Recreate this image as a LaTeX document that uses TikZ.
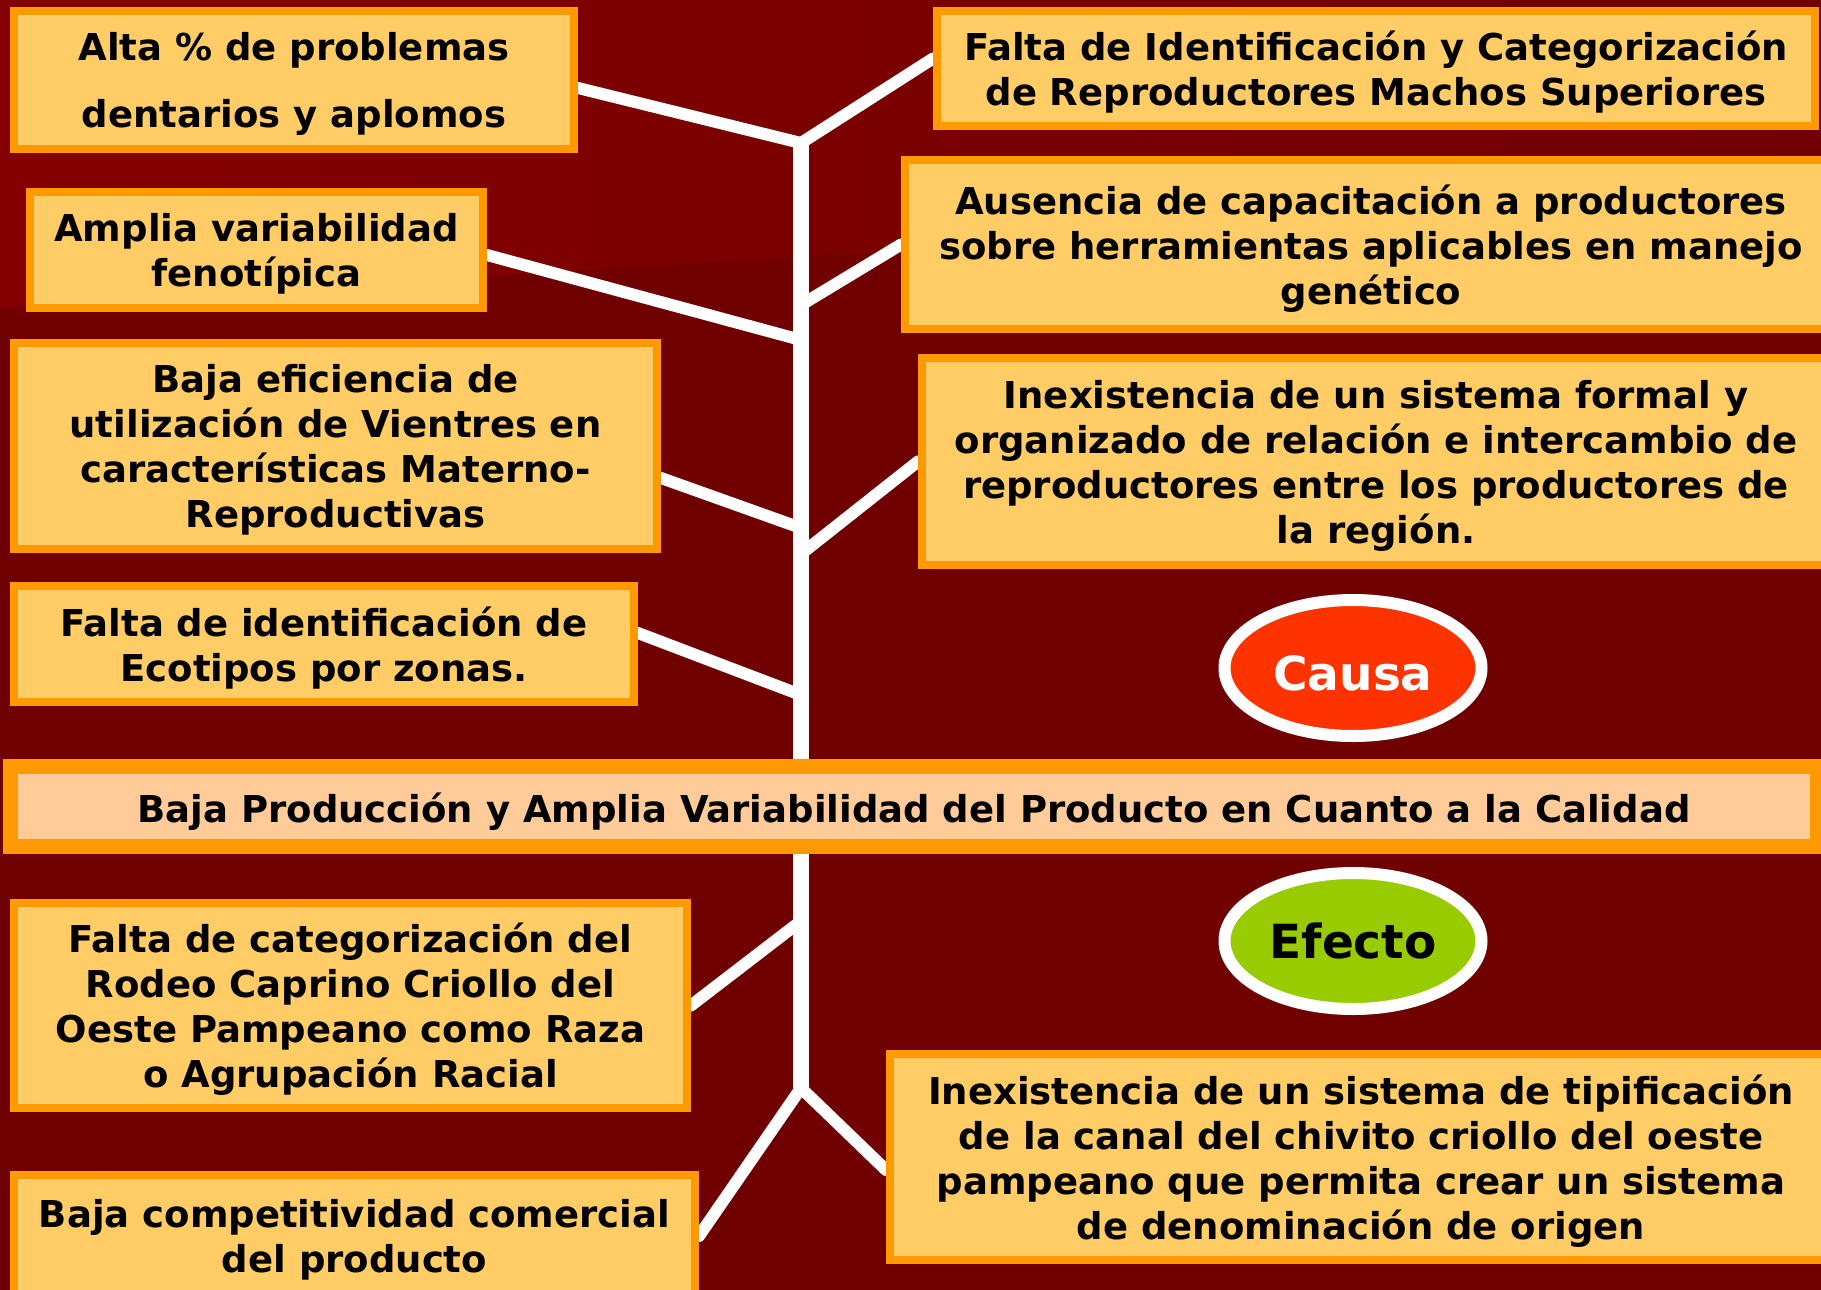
\documentclass[tikz,border=0pt]{standalone}
\usepackage{fontspec}
\setmainfont{DejaVu Sans}
\usetikzlibrary{shapes.geometric}
\pgfdeclarelayer{background}
\pgfsetlayers{background,main}
\definecolor{bgdark}{HTML}{700000}
\definecolor{bglight}{HTML}{840000}
\definecolor{boxfill}{HTML}{FFCC66}
\definecolor{boxline}{HTML}{FF9900}
\definecolor{barfill}{HTML}{FFCC99}
\definecolor{causafill}{HTML}{FF3300}
\definecolor{efectofill}{HTML}{99CC00}
\tikzset{
  cbox/.style={draw=boxline, fill=boxfill, line width=8pt, inner sep=0pt, align=center,
    font=\bfseries\fontsize{37}{45}\selectfont, text=black, text depth=-3pt},
  barbox/.style={draw=boxline, fill=barfill, line width=15pt, inner sep=0pt, align=center,
    font=\bfseries\fontsize{37}{45}\selectfont, text=black,
    execute at begin node={\rule{0pt}{40pt}}},
  tag/.style={ellipse, draw=white, line width=12pt, minimum width=257pt, minimum height=136pt,
    inner sep=0pt, font=\bfseries\fontsize{47}{56}\selectfont},
  conn/.style={draw=white, line width=12pt, line cap=round},
  spineline/.style={draw=white, line width=16pt}
}
\begin{document}
\begin{tikzpicture}[x=1pt,y=-1pt]
\clip (0,0) rectangle (1821,1290);
\begin{pgfonlayer}{background}
\fill[bgdark] (0,0) rectangle (1821,1290);
\shade[left color=bglight, right color=bgdark] (0,0) -- (1821,0) -- (1821,200)
  .. controls (1300,225) and (900,250) .. (0,308) -- cycle;
\end{pgfonlayer}

% cause boxes, left
\node[cbox, minimum width=560pt, minimum height=138pt, font=\bfseries\fontsize{37}{67}\selectfont]
  (b1) at (294,80) {Alta \% de problemas\\dentarios y aplomos};
\node[cbox, minimum width=453pt, minimum height=116pt] (b2) at (256.5,250)
  {Amplia variabilidad\\fenotípica};
\node[cbox, minimum width=643pt, minimum height=206pt] (b3) at (335.5,446)
  {Baja eficiencia de\\utilización de Vientres en\\características Materno-\\Reproductivas};
\node[cbox, minimum width=620pt, minimum height=116pt] (b4) at (324,644)
  {Falta de identificación de\\Ecotipos por zonas.};

% cause boxes, right
\node[cbox, minimum width=878pt, minimum height=115pt] (r1) at (1376,68.5)
  {Falta de Identificación y Categorización\\de Reproductores Machos Superiores};
\node[cbox, minimum width=932pt, minimum height=169pt] (r2) at (1371,244.5)
  {Ausencia de capacitación a productores\\sobre herramientas aplicables en manejo\\genético};
\node[cbox, minimum width=908pt, minimum height=207pt] (r3) at (1376,461.5)
  {Inexistencia de un sistema formal y\\organizado de relación e intercambio de\\reproductores entre los productores de\\la región.};

% central problem
\node[barbox, minimum width=1807pt, minimum height=80pt] (bar) at (914,806.5)
  {Baja Producción y Amplia Variabilidad del Producto en Cuanto a la Calidad};

% effect boxes
\node[cbox, minimum width=673pt, minimum height=205pt] (bl1) at (350.5,1005.5)
  {Falta de categorización del\\Rodeo Caprino Criollo del\\Oeste Pampeano como Raza\\o Agrupación Racial};
\node[cbox, minimum width=681pt, minimum height=122pt] (bl2) at (354.5,1236)
  {Baja competitividad comercial\\del producto};
\node[cbox, minimum width=942pt, minimum height=206pt] (br) at (1361,1157)
  {Inexistencia de un sistema de tipificación\\de la canal del chivito criollo del oeste\\pampeano que permita crear un sistema\\de denominación de origen};

% labels
\node[tag, fill=causafill, text=white, execute at begin node={\rule{0pt}{45pt}}]
  (causa) at (1353,668) {Causa};
\node[tag, fill=efectofill, text=black] (efecto) at (1353,941) {Efecto};

% spine points
\coordinate (jtop) at (801,143);
\coordinate (s2) at (801,340);
\coordinate (s2r) at (801,305);
\coordinate (s3) at (801,528);
\coordinate (s3r) at (801,554);
\coordinate (s4) at (801,695);
\coordinate (s5) at (801,921);
\coordinate (jbot) at (801,1088);

\begin{pgfonlayer}{background}
\draw[spineline] (jtop) -- (jbot);
\draw[conn] ([yshift=-8pt]b1.east) -- (jtop) -- ([yshift=10pt]r1.west);
\draw[conn] ([yshift=-5pt]b2.east) -- (s2);
\draw[conn] (s2r) -- (r2.west);
\draw[conn] ([yshift=-32pt]b3.east) -- (s3);
\draw[conn] (s3r) -- (r3.west);
\draw[conn] ([yshift=11pt]b4.east) -- (s4);
\draw[conn] (s5) -- (bl1.east);
\draw[conn] (bl2.east) -- (jbot) -- ([yshift=-13pt]br.west);
\end{pgfonlayer}
\end{tikzpicture}
\end{document}
